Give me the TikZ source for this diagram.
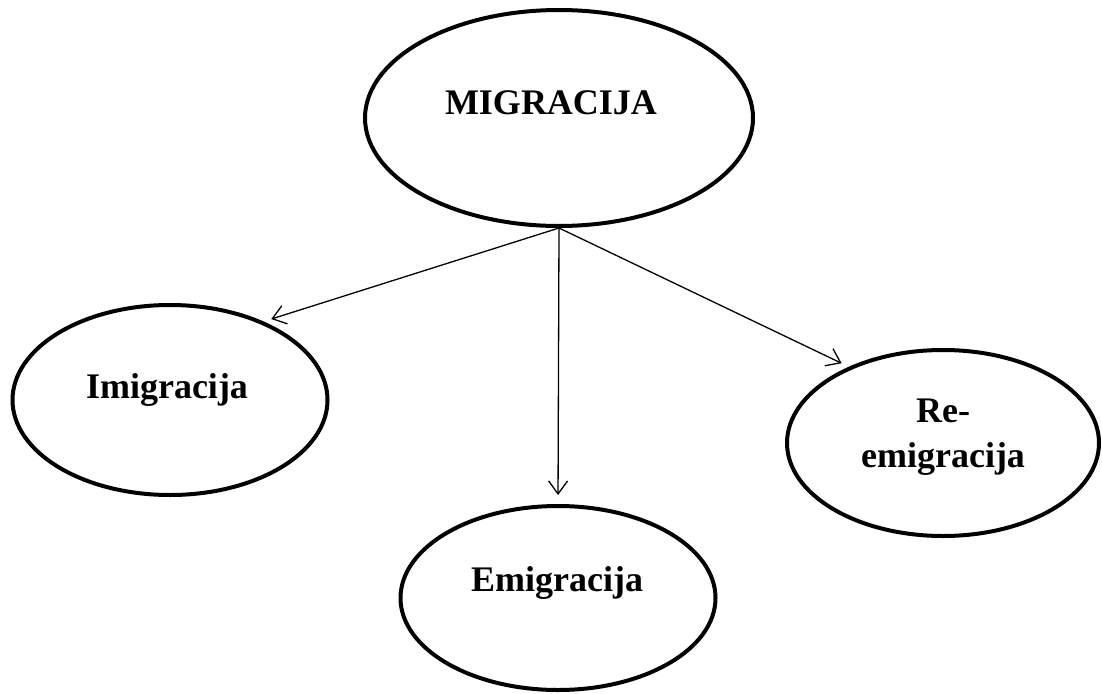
\documentclass[tikz,border=0pt]{standalone}
\usepackage{fontspec}
\setmainfont{Liberation Serif}
\usetikzlibrary{shapes.geometric,arrows.meta}
\begin{document}
\begin{tikzpicture}[x=1pt,y=-1pt,
  oval/.style={ellipse,draw=black,line width=4pt,inner sep=0pt},
  lbl/.style={font=\bfseries\fontsize{36}{45}\selectfont,text=black,inner sep=0pt},
  conn/.style={draw=black,line width=1.3pt,-{Straight Barb[length=13pt,width=19pt,line width=1.3pt]}}]
\useasboundingbox (0,0) rectangle (1102,693);
\node[oval,minimum width=388pt,minimum height=216pt] (mig) at (559,118) {};
\node[oval,minimum width=315pt,minimum height=190pt] (imi) at (170,400) {};
\node[oval,minimum width=315pt,minimum height=184pt] (emi) at (558,598) {};
\node[oval,minimum width=312pt,minimum height=186pt] (rem) at (943,443) {};
\node[lbl,anchor=base] (tmig) at (551,114) {MIGRACIJA};
\node[lbl,anchor=base] (timi) at (167,398) {Imigracija};
\node[lbl,anchor=base] (temi) at (557,591) {Emigracija};
\node[lbl,align=center] (trem) at (943,437) {Re-\\emigracija};
\draw[conn,shorten >=8pt] (mig.south) -- (imi.40);
\draw[conn,shorten >=9pt] (mig.south) -- (emi.north);
\draw[conn,shorten >=8pt] (mig.south) -- (rem.141);
\end{tikzpicture}
\end{document}
